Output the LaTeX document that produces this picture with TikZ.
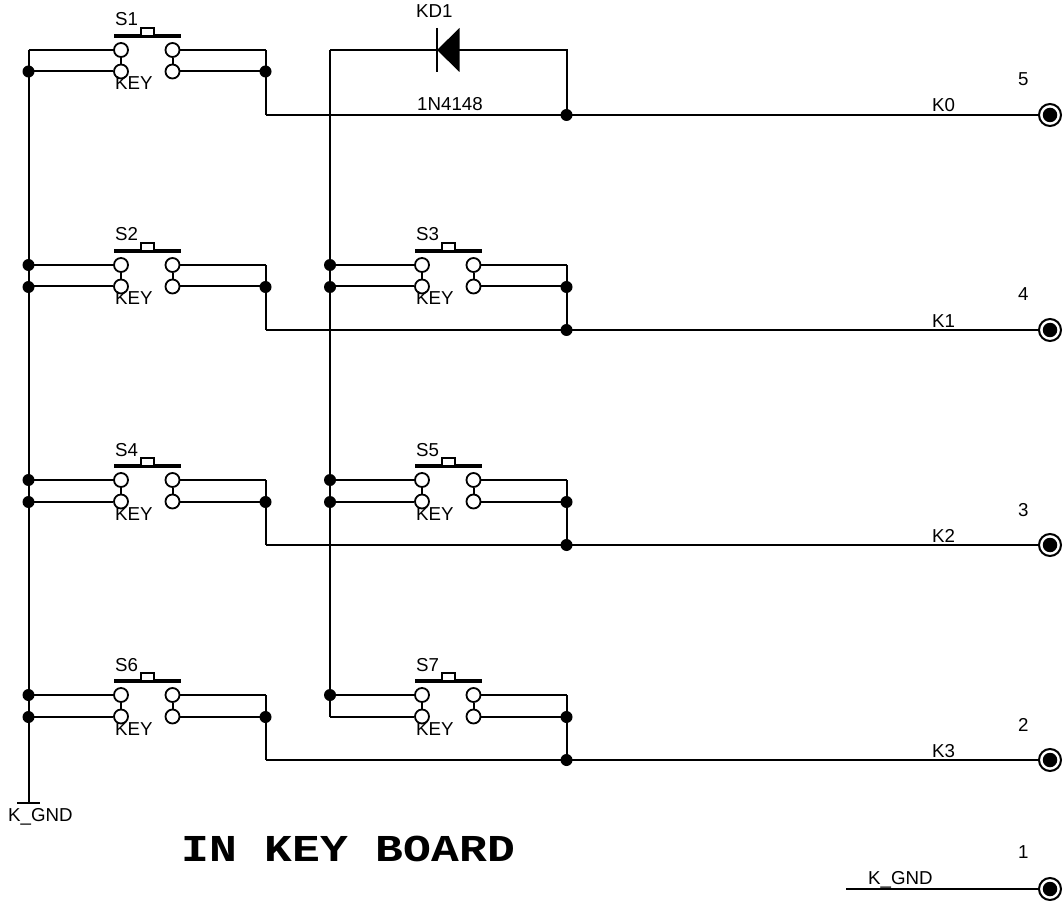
\documentclass[tikz,border=0pt]{standalone}
\usepackage{fontspec}
\setmainfont{Liberation Sans}
\newfontfamily\titlefont[FakeStretch=1.22]{Liberation Mono}
\tikzset{
  x=1pt,y=-1pt,
  wire/.style={line width=2pt,black,line join=miter},
  contact/.style={circle,draw,line width=1.8pt,fill=white,minimum size=14pt,inner sep=0pt},
  junction/.style={circle,fill=black,minimum size=12pt,inner sep=0pt},
  terminal/.style={circle,draw,line width=2pt,fill=white,minimum size=22pt,inner sep=0pt},
  termcore/.style={circle,fill=black,minimum size=14.5pt,inner sep=0pt},
  lbl/.style={font=\fontsize{18.7}{20}\selectfont,inner sep=0pt,anchor=base west},
  barline/.style={line width=3.5pt,black},
  plunger/.style={draw,line width=1.8pt,fill=white,minimum width=13.5pt,minimum height=8.5pt,inner sep=0pt}
}
\begin{document}
\begin{tikzpicture}
\useasboundingbox (0,0) rectangle (1063,901);
% rails
\coordinate (gndtop) at (28.5,50);
\coordinate (gndbot) at (28.5,803);
\coordinate (vrailtop) at (330,50);
\coordinate (vrailbot) at (330,717);
\draw[wire] (gndtop) -- (gndbot);
\draw[wire] (vrailtop) -- (vrailbot);
% ground
\coordinate (gbl) at (17,803);
\coordinate (gbr) at (40,803);
\draw[wire] (gbl) -- (gbr);
\node[lbl] (gndlbl) at (8,821) {K\_GND};
% switches: name / x offset / row y
\foreach \nm/\dx/\dy in {S1/0/0,S2/0/215,S3/301/215,S4/0/430,S5/301/430,S6/0/645,S7/301/645}{
  \begin{scope}[shift={(\dx,\dy)}]
    \coordinate (\nm la) at (28.5,50);
    \coordinate (\nm lb) at (28.5,71.5);
    \coordinate (\nm ra) at (265.5,50);
    \coordinate (\nm rb) at (265.5,71.5);
    \coordinate (\nm rc) at (265.5,115);
    \node[contact] (\nm c1) at (121,50) {};
    \node[contact] (\nm c2) at (121,71.5) {};
    \node[contact] (\nm c3) at (172.5,50) {};
    \node[contact] (\nm c4) at (172.5,71.5) {};
    \draw[wire] (\nm la) -- (\nm c1) (\nm lb) -- (\nm c2);
    \draw[wire] (\nm c3) -- (\nm ra) (\nm c4) -- (\nm rb);
    \draw[wire] (\nm ra) -- (\nm rc);
    \draw[wire] (\nm c1) -- (\nm c2);
    \draw[wire] (\nm c3) -- (\nm c4);
    \coordinate (\nm bl) at (114,36);
    \coordinate (\nm br) at (180.5,36);
    \draw[barline] (\nm bl) -- (\nm br);
    \node[plunger] (\nm p) at (147.5,32) {};
    \node[lbl] (\nm t) at (115,26) {\nm};
    \node[lbl] (\nm k) at (115,90) {KEY};
  \end{scope}
}
% nets
\foreach \nm/\yy/\net/\pin in {a/115/K0/5,b/330/K1/4,c/545/K2/3,d/760/K3/2}{
  \coordinate (start\nm) at (265.5,\yy);
  \node[terminal] (term\nm) at (1050,\yy) {};
  \node[termcore] at (term\nm) {};
  \draw[wire] (start\nm) -- (term\nm);
  \node[lbl] (net\nm) at (932,\yy-3) {\net};
  \node[lbl] (pin\nm) at (1018,\yy-29) {\pin};
}
\node[terminal] (terme) at (1050,889) {};
\node[termcore] at (terme) {};
\coordinate (starte) at (846,889);
\draw[wire] (starte) -- (terme);
\node[lbl] at (868,884) {K\_GND};
\node[lbl] at (1018,858) {1};
% diode
\coordinate (da) at (330,50);
\coordinate (dk) at (566.5,50);
\coordinate (dnet) at (566.5,115);
\draw[wire] (da) -- (dk) -- (dnet);
\coordinate (dbt) at (437,28);
\coordinate (dbb) at (437,72);
\draw[wire] (dbt) -- (dbb);
\fill (437,50) -- (459.5,28) -- (459.5,72) -- cycle;
\node[lbl] at (416,18) {KD1};
\node[lbl] at (417,111) {1N4148};
% junctions
\foreach \x/\y in {28.5/71.5,28.5/265,28.5/287,28.5/480,28.5/502,28.5/695,28.5/717,
  265.5/71.5,265.5/287,265.5/502,265.5/717,
  330/265,330/287,330/480,330/502,330/695,
  566.5/115,566.5/287,566.5/330,566.5/502,566.5/545,566.5/717,566.5/760}{
  \node[junction] at (\x,\y) {};
}
\node[inner sep=0pt,anchor=base west,font=\titlefont\bfseries\fontsize{38}{40}\selectfont] (title) at (181,861) {IN KEY BOARD};
\end{tikzpicture}
\end{document}
